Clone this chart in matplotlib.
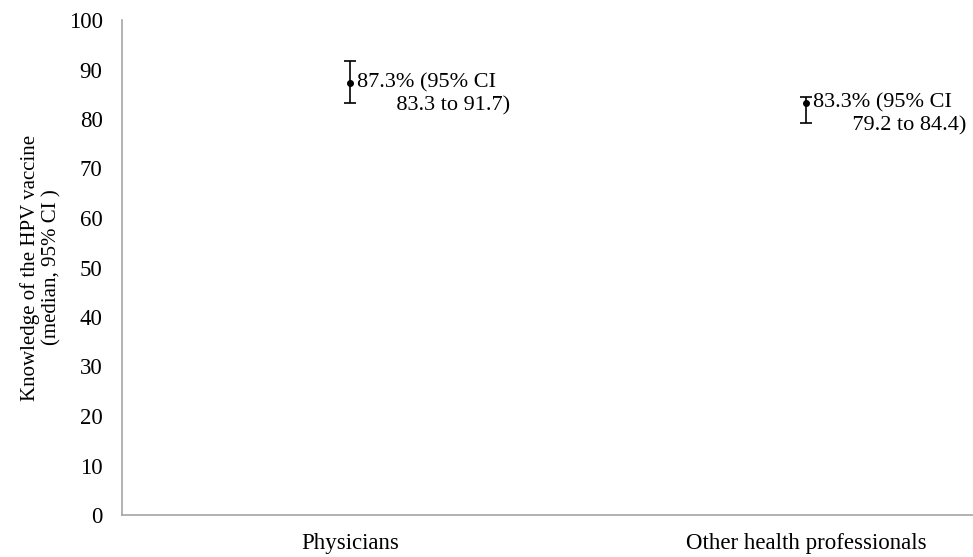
import matplotlib.pyplot as plt

# datos
grupos = ['Physicians', 'Other health professionals']
medianas = [87.3, 83.3]
ic_bajo = [83.3, 79.2]
ic_alto = [91.7, 84.4]
etiquetas = ['87.3% (95% CI\n       83.3 to 91.7)', '83.3% (95% CI\n       79.2 to 84.4)']

plt.rcParams['font.family'] = ['Liberation Serif', 'DejaVu Serif']

fig = plt.figure(figsize=(9.73, 5.57), dpi=100)
ax = fig.add_axes([122 / 973, 1 - 515 / 557, 1 - 122 / 973, (515 - 20) / 557])

xs = list(range(len(grupos)))
err = [[m - l for m, l in zip(medianas, ic_bajo)], [h - m for m, h in zip(medianas, ic_alto)]]
ax.errorbar(xs, medianas, yerr=err, fmt='o', color='black', markersize=4,
            elinewidth=1.2, capsize=4, capthick=1.2)

for x, m, t in zip(xs, medianas, etiquetas):
    ax.annotate(t, xy=(x, m), xytext=(5, 7), textcoords='offset points',
                ha='left', va='top', fontsize=16, linespacing=1.3)

ax.set_xlim(-0.5, 1 + (973 - 806) / 456)
ax.set_ylim(0, 100)
ax.set_yticks(range(0, 101, 10))
ax.set_xticks(xs)
ax.set_xticklabels(grupos)
ax.tick_params(axis='both', length=0, labelsize=16.5)
ax.tick_params(axis='y', pad=14)
ax.tick_params(axis='x', pad=13)
ax.set_ylabel('Knowledge of the HPV vaccine\n(median, 95% CI )', fontsize=15, labelpad=5)

for s in ['top', 'right']:
    ax.spines[s].set_visible(False)
for s in ['left', 'bottom']:
    ax.spines[s].set_color('#a6a6a6')
    ax.spines[s].set_linewidth(1.2)

fig.savefig('out.png', dpi=100)
